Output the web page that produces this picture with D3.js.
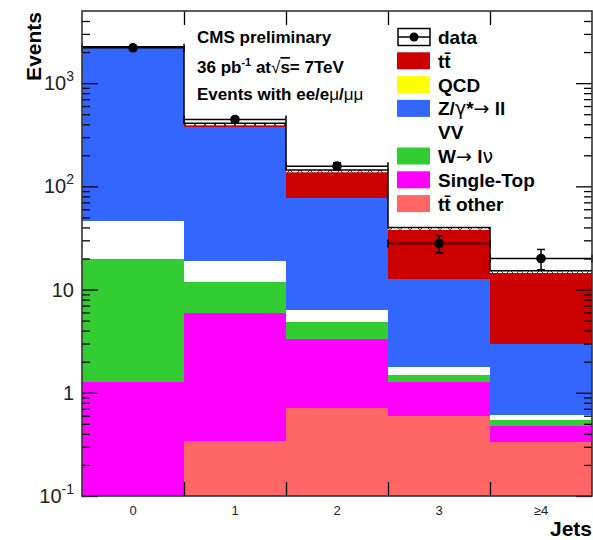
<!DOCTYPE html>
<html>
<head>
<meta charset="utf-8">
<script src="https://cdn.jsdelivr.net/npm/d3@7"></script>
<style>
  body { margin: 0; background: #fff; }
  text { font-family: "Liberation Sans", Arial, Helvetica, sans-serif; }
</style>
</head>
<body>
<svg id="chart" width="593" height="540"></svg>
<script>
// jet multiplicity bins
const bins = ["0", "1", "2", "3", "≥4"];
const binCenters = [0, 1, 2, 3, 4];
const binEdges = [0.5, 1.5, 2.5, 3.5];

// observed events
const dataEvents = [2200, 445, 157, 28, 20];

// MC samples, stacked bottom -> top
const ttOther   = [0.02, 0.34, 0.71, 0.60, 0.335];
const singleTop = [1.26, 5.55, 2.59, 0.68, 0.141];
const wToLnu    = [18.4, 6.0, 1.59, 0.21, 0.069];
const diboson   = [26.9, 7.1, 1.45, 0.30, 0.06];
const zToLL     = [2183, 356, 70.5, 10.9, 2.37];
const qcd       = [0, 0, 0, 0, 0];
const ttbar     = [4, 15, 60, 25.3, 11.5];
const mcRelErr  = [0.01, 0.05, 0.05, 0.05, 0.05];

// y axis
const yMajor = [0.1, 1, 10, 100, 1000];
const yLabelBase = ["10", "1", "10", "10", "10"];
const yLabelExp = ["-1", "", "", "2", "3"];

const samples = [
    { key: "ttOther", values: ttOther, color: "#ff6666" },
    { key: "singleTop", values: singleTop, color: "#ff00ff" },
    { key: "wToLnu", values: wToLnu, color: "#33cc33" },
    { key: "diboson", values: diboson, color: "#ffffff" },
    { key: "zToLL", values: zToLL, color: "#3366ff" },
    { key: "qcd", values: qcd, color: "#ffff00" },
    { key: "ttbar", values: ttbar, color: "#cc0000" }
];

const frameL = 82, frameR = 592, frameT = 11, frameB = 496;

const svg = d3.select("#chart");
const x = d3.scaleLinear().domain([-0.5, 4.5]).range([frameL, frameR]);
const y = d3.scaleLog().domain([0.1, 5000]).range([frameB, frameT]).clamp(true);

// build the stack table
const table = binCenters.map((c, i) => {
    const row = { bin: c };
    samples.forEach(s => { row[s.key] = s.values[i]; });
    return row;
});
const stack = d3.stack().keys(samples.map(s => s.key))(table);

const plot = svg.append("g");

stack.forEach((layer, li) => {
    plot.append("g").selectAll("rect")
        .data(layer)
        .join("rect")
        .attr("x", d => x(d.data.bin - 0.5))
        .attr("width", d => x(d.data.bin + 0.5) - x(d.data.bin - 0.5))
        .attr("y", d => y(Math.max(d[1], 0.1)))
        .attr("height", d => Math.max(0, y(Math.max(d[0], 0.1)) - y(Math.max(d[1], 0.1))))
        .attr("fill", samples[li].color)
        .attr("shape-rendering", "crispEdges");
});

// MC uncertainty band
const totals = stack[stack.length - 1].map(d => d[1]);
const defs = svg.append("defs");
const pat = defs.append("pattern")
    .attr("id", "hatch").attr("patternUnits", "userSpaceOnUse")
    .attr("width", 10).attr("height", 10);
pat.append("rect").attr("width", 10).attr("height", 10).attr("fill", "#fff");
pat.append("path").attr("d", "M0,0L10,10M10,0L0,10")
    .attr("stroke", "#000").attr("stroke-width", 0.8);

plot.append("g").selectAll("rect")
    .data(totals)
    .join("rect")
    .attr("x", (d, i) => x(i - 0.5))
    .attr("width", (d, i) => x(i + 0.5) - x(i - 0.5))
    .attr("y", (d, i) => y(d * (1 + mcRelErr[i])))
    .attr("height", (d, i) => y(d) - y(d * (1 + mcRelErr[i])))
    .attr("fill", "url(#hatch)");

// MC total outline (step)
const stepPts = [];
totals.forEach((t, i) => {
    const v = t * (1 + mcRelErr[i]);
    stepPts.push([x(i - 0.5), y(v)], [x(i + 0.5), y(v)]);
});
plot.append("path")
    .attr("d", d3.line()(stepPts))
    .attr("fill", "none").attr("stroke", "#000").attr("stroke-width", 1.5);

// data points
const dg = plot.append("g").attr("stroke", "#000").attr("stroke-width", 1.5);
dataEvents.forEach((n, i) => {
    const cx = x(i), cy = y(n);
    const lo = y(n - Math.sqrt(n)), hi = y(n + Math.sqrt(n));
    dg.append("line").attr("x1", x(i - 0.5)).attr("x2", x(i + 0.5)).attr("y1", cy).attr("y2", cy);
    dg.append("line").attr("x1", x(i - 0.5)).attr("x2", x(i - 0.5)).attr("y1", cy - 4).attr("y2", cy + 4);
    dg.append("line").attr("x1", x(i + 0.5)).attr("x2", x(i + 0.5)).attr("y1", cy - 4).attr("y2", cy + 4);
    dg.append("line").attr("x1", cx).attr("x2", cx).attr("y1", lo).attr("y2", hi);
    dg.append("line").attr("x1", cx - 4).attr("x2", cx + 4).attr("y1", lo).attr("y2", lo);
    dg.append("line").attr("x1", cx - 4).attr("x2", cx + 4).attr("y1", hi).attr("y2", hi);
    dg.append("circle").attr("cx", cx).attr("cy", cy).attr("r", 4.8).attr("fill", "#000").attr("stroke", "none");
});

// axes ticks
const yMinor = [];
[-1, 0, 1, 2, 3].forEach(d => {
    for (let k = 2; k <= 9; k++) {
        const v = k * Math.pow(10, d);
        if (v < 5000) yMinor.push(v);
    }
});
function styleAxis(g) {
    g.select(".domain").remove();
    g.selectAll("line").attr("stroke", "#000").attr("stroke-width", 1.3);
    g.selectAll("text").remove();
}
svg.append("g").attr("transform", `translate(${frameL},0)`)
    .call(d3.axisLeft(y).tickValues(yMajor).tickSize(-16)).call(styleAxis);
svg.append("g").attr("transform", `translate(${frameL},0)`)
    .call(d3.axisLeft(y).tickValues(yMinor).tickSize(-8)).call(styleAxis);
svg.append("g").attr("transform", `translate(${frameR},0)`)
    .call(d3.axisRight(y).tickValues(yMajor).tickSize(-16)).call(styleAxis);
svg.append("g").attr("transform", `translate(${frameR},0)`)
    .call(d3.axisRight(y).tickValues(yMinor).tickSize(-8)).call(styleAxis);
svg.append("g").attr("transform", `translate(0,${frameB})`)
    .call(d3.axisBottom(x).tickValues(binEdges).tickSize(-14)).call(styleAxis);
svg.append("g").attr("transform", `translate(0,${frameT})`)
    .call(d3.axisTop(x).tickValues(binEdges).tickSize(-14)).call(styleAxis);

// frame
svg.append("rect")
    .attr("x", frameL).attr("y", frameT).attr("width", frameR - frameL).attr("height", frameB - frameT)
    .attr("fill", "none").attr("stroke", "#333").attr("stroke-width", 1.6);

// y tick labels
yMajor.forEach((v, i) => {
    const t = svg.append("text")
        .attr("x", 74).attr("y", y(v) + 7)
        .attr("text-anchor", "end")
        .attr("font-size", 20).attr("fill", "#222");
    t.append("tspan").text(yLabelBase[i]);
    if (yLabelExp[i]) {
        t.append("tspan").attr("dy", -9).attr("font-size", 14).text(yLabelExp[i]);
    }
});

// x tick labels
svg.append("g").selectAll("text")
    .data(bins)
    .join("text")
    .attr("x", (d, i) => x(binCenters[i]))
    .attr("y", 515)
    .attr("text-anchor", "middle")
    .attr("font-size", 13)
    .attr("fill", "#222")
    .text(d => d);

// axis titles
svg.append("text")
    .attr("transform", "translate(41,12) rotate(-90)")
    .attr("text-anchor", "end")
    .attr("font-size", 21).attr("font-weight", "bold")
    .text("Events");
svg.append("text")
    .attr("x", 592).attr("y", 536)
    .attr("text-anchor", "end")
    .attr("font-size", 21).attr("font-weight", "bold")
    .text("Jets");

// write text, greek letters and arrows in a thinner symbol-like face
function richText(sel, str) {
    str.split(/([→γνμ√])/).filter(s => s.length).forEach(part => {
        const ts = sel.append("tspan").text(part);
        if (/[→γνμ√]/.test(part)) {
            ts.attr("font-weight", "normal").attr("font-family", "DejaVu Sans");
        }
    });
}

// header text
const hdr = svg.append("g").attr("font-size", 17).attr("font-weight", "bold");
hdr.append("text").attr("x", 197).attr("y", 43).text("CMS preliminary");
const l2 = hdr.append("text").attr("x", 197).attr("y", 73);
l2.append("tspan").text("36 pb");
l2.append("tspan").attr("dy", -7).attr("font-size", 11).text("-1");
l2.append("tspan").attr("dy", 7).text(" at");
l2.append("tspan").attr("font-weight", "normal").text("√");
l2.append("tspan").style("text-decoration", "overline").text("s");
l2.append("tspan").text("= 7TeV");
const l3 = hdr.append("text").attr("x", 197).attr("y", 100);
l3.append("tspan").text("Events with ee/e");
l3.append("tspan").attr("font-weight", "normal").text("μ");
l3.append("tspan").text("/");
l3.append("tspan").attr("font-weight", "normal").text("μμ");

// legend
const legendLabels = ["data", "tt\u0304", "QCD", "Z/γ*→ ll", "VV", "W→ lν", "Single-Top", "tt\u0304 other"];
const legendColors = [null, "#cc0000", "#ffff00", "#3366ff", "#ffffff", "#33cc33", "#ff00ff", "#ff6666"];
const lg = svg.append("g");
legendLabels.forEach((lab, i) => {
    const cy = 37 + i * 23.8;
    if (legendColors[i] === null) {
        lg.append("rect").attr("x", 398).attr("y", cy - 8.5).attr("width", 32).attr("height", 17)
            .attr("fill", "#fff").attr("stroke", "#000").attr("stroke-width", 1.5);
        lg.append("line").attr("x1", 398).attr("x2", 430).attr("y1", cy).attr("y2", cy)
            .attr("stroke", "#000").attr("stroke-width", 1.5);
        lg.append("circle").attr("cx", 414).attr("cy", cy).attr("r", 4.5).attr("fill", "#000");
    } else {
        lg.append("rect").attr("x", 397).attr("y", cy - 8.5).attr("width", 33).attr("height", 17)
            .attr("fill", legendColors[i]);
    }
    const t = lg.append("text").attr("x", 438).attr("y", cy + 7)
        .attr("font-size", 19).attr("font-weight", "bold");
    richText(t, lab);
});
</script>
</body>
</html>
